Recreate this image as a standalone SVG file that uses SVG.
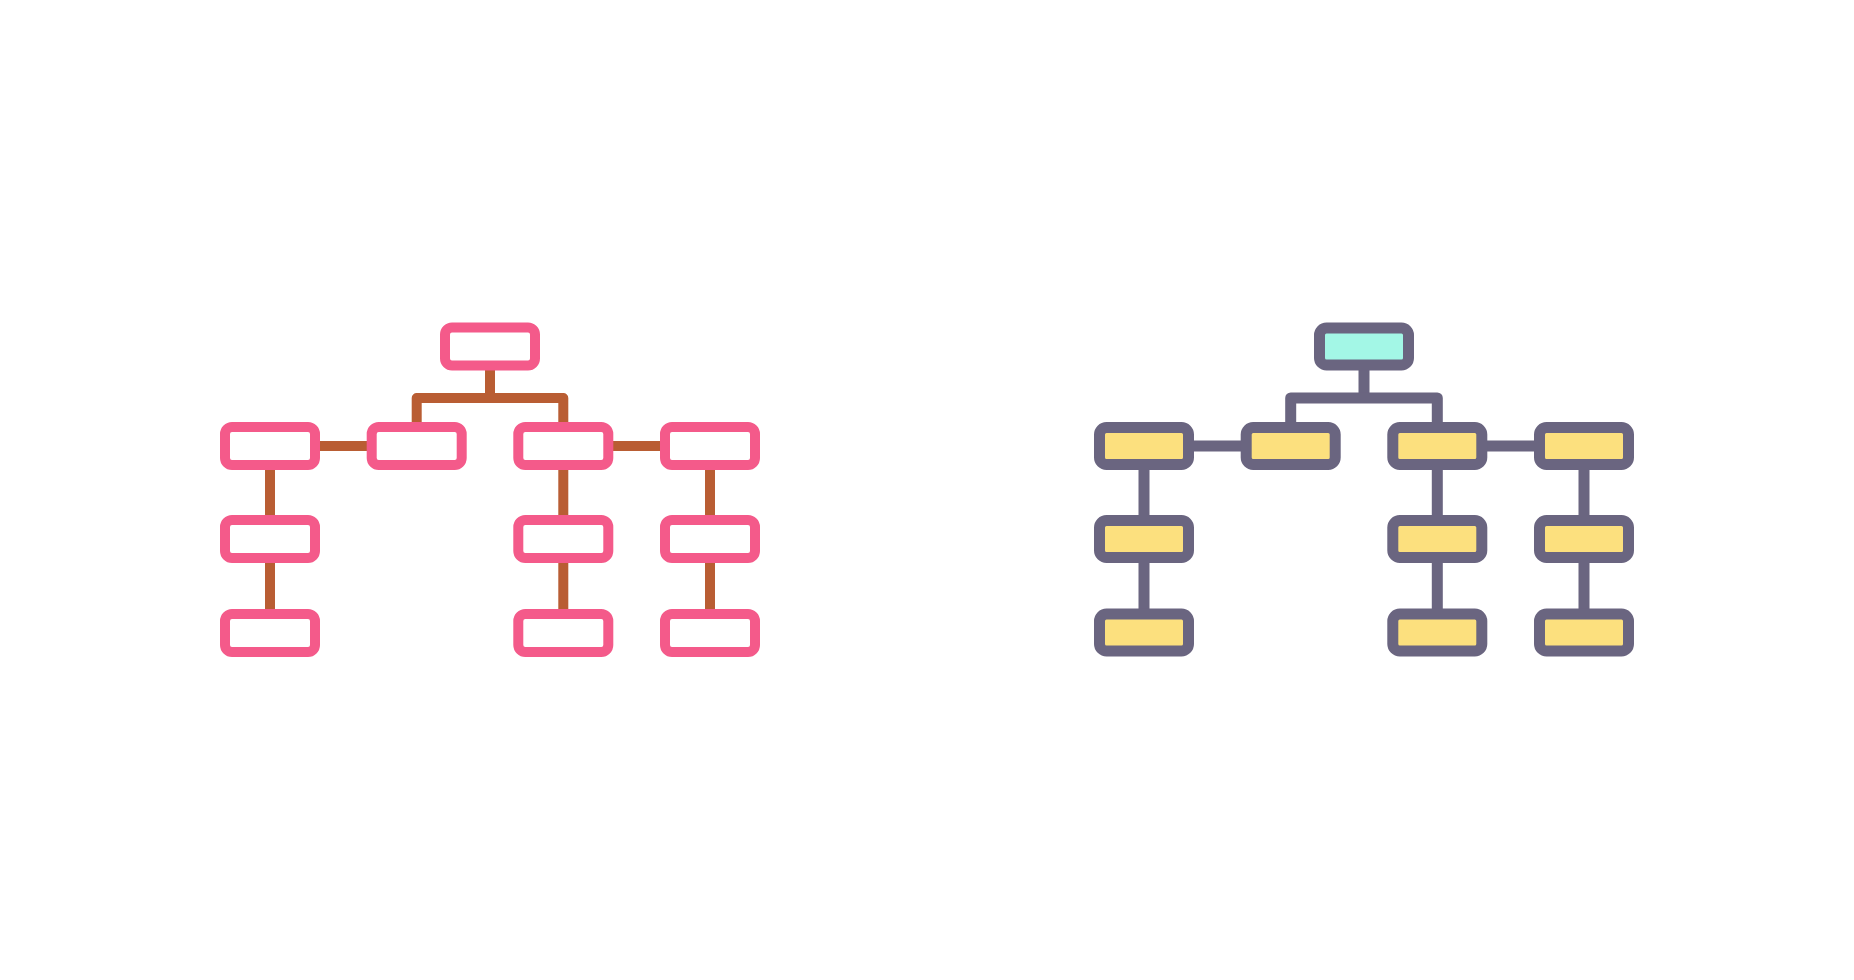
<svg xmlns="http://www.w3.org/2000/svg" width="1854" height="980" viewBox="0 0 1854 980">
<style>
.pk{fill:#ffffff;stroke:#F45A8A;stroke-width:10}
.gy{fill:#FCE07E;stroke:#6A6580;stroke-width:11}
.tl{fill:#A3F7E6;stroke:#6A6580;stroke-width:11}
.cb{fill:none;stroke:#B95D33;stroke-width:10;stroke-linejoin:round}
.cg{fill:none;stroke:#6A6580;stroke-width:11;stroke-linejoin:round}
</style>
<rect width="1854" height="980" fill="#ffffff"/>
<g id="connectors-left">
<path class="cb" d="M490,368 V398"/>
<path class="cb" d="M416.7,425 V398 H563.3 V425"/>
<path class="cb" d="M318,446 H368"/>
<path class="cb" d="M611,446 H661"/>
<path class="cb" d="M270,468 V518 M270,561 V612"/>
<path class="cb" d="M563.3,468 V518 M563.3,561 V612"/>
<path class="cb" d="M710,468 V518 M710,561 V612"/>
</g>
<g id="connectors-right">
<path class="cg" d="M1364,368 V398"/>
<path class="cg" d="M1290.7,425 V398 H1437.3 V425"/>
<path class="cg" d="M1192,446 H1242"/>
<path class="cg" d="M1485,446 H1535"/>
<path class="cg" d="M1144,468 V518 M1144,561 V612"/>
<path class="cg" d="M1437.3,468 V518 M1437.3,561 V612"/>
<path class="cg" d="M1584,468 V518 M1584,561 V612"/>
</g>
<g id="L-top"><rect class="pk" x="445" y="327.5" width="90" height="38" rx="7"/></g>
<g id="L-a1"><rect class="pk" x="225" y="427" width="90" height="38" rx="7"/></g>
<g id="L-b1"><rect class="pk" x="371.7" y="427" width="90" height="38" rx="7"/></g>
<g id="L-c1"><rect class="pk" x="518.3" y="427" width="90" height="38" rx="7"/></g>
<g id="L-d1"><rect class="pk" x="665" y="427" width="90" height="38" rx="7"/></g>
<g id="L-a2"><rect class="pk" x="225" y="520" width="90" height="38" rx="7"/></g>
<g id="L-c2"><rect class="pk" x="518.3" y="520" width="90" height="38" rx="7"/></g>
<g id="L-d2"><rect class="pk" x="665" y="520" width="90" height="38" rx="7"/></g>
<g id="L-a3"><rect class="pk" x="225" y="614" width="90" height="38" rx="7"/></g>
<g id="L-c3"><rect class="pk" x="518.3" y="614" width="90" height="38" rx="7"/></g>
<g id="L-d3"><rect class="pk" x="665" y="614" width="90" height="38" rx="7"/></g>
<g id="R-top"><rect class="tl" x="1319.5" y="328" width="89" height="37" rx="7"/></g>
<g id="R-a1"><rect class="gy" x="1099.5" y="427.5" width="89" height="37" rx="7"/></g>
<g id="R-b1"><rect class="gy" x="1246.2" y="427.5" width="89" height="37" rx="7"/></g>
<g id="R-c1"><rect class="gy" x="1392.8" y="427.5" width="89" height="37" rx="7"/></g>
<g id="R-d1"><rect class="gy" x="1539.5" y="427.5" width="89" height="37" rx="7"/></g>
<g id="R-a2"><rect class="gy" x="1099.5" y="520.5" width="89" height="37" rx="7"/></g>
<g id="R-c2"><rect class="gy" x="1392.8" y="520.5" width="89" height="37" rx="7"/></g>
<g id="R-d2"><rect class="gy" x="1539.5" y="520.5" width="89" height="37" rx="7"/></g>
<g id="R-a3"><rect class="gy" x="1099.5" y="614" width="89" height="37" rx="7"/></g>
<g id="R-c3"><rect class="gy" x="1392.8" y="614" width="89" height="37" rx="7"/></g>
<g id="R-d3"><rect class="gy" x="1539.5" y="614" width="89" height="37" rx="7"/></g>
</svg>
